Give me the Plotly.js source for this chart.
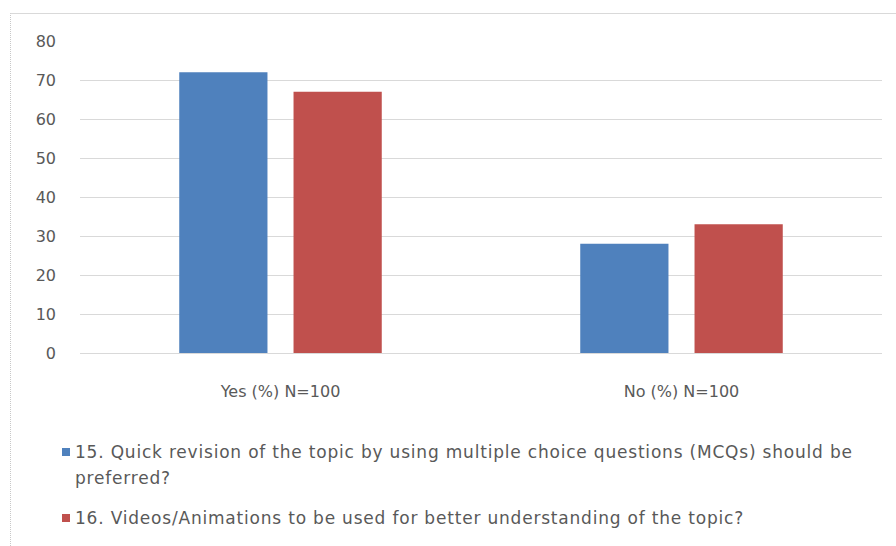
<!DOCTYPE html>
<html>
<head>
<meta charset="utf-8">
<script src="https://cdn.plot.ly/plotly-3.0.1.min.js"></script>
<style>
html,body{margin:0;padding:0;background:#fff;}
#wrap{position:relative;width:896px;height:546px;overflow:hidden;}
#frame{position:absolute;left:10px;top:13px;width:900px;height:600px;border-top:1px solid #d9d9d9;border-left:1px dotted #c8c8c8;pointer-events:none;}
#chart{position:absolute;left:0;top:0;width:896px;height:546px;}
#chart .annotation-text{letter-spacing:0.8px;}
</style>
</head>
<body>
<div id="wrap"><div id="chart"></div><div id="frame"></div></div>
<script>
var categories = ["Yes (%) N=100", "No (%) N=100"];
var seriesNames = [
  "15. Quick revision of the topic by using multiple choice questions (MCQs) should be<br>preferred?",
  "16. Videos/Animations to be used for better understanding of the topic?"
];
var q15Values = [72, 28];
var q16Values = [67, 33];
var colors = ["#4f81bd", "#c0504d"];
var yTicks = [0, 10, 20, 30, 40, 50, 60, 70, 80];

var font = "DejaVu Sans, sans-serif";
var traces = [
  {type: "bar", x: categories, y: q15Values, name: seriesNames[0], marker: {color: colors[0]}, showlegend: false},
  {type: "bar", x: categories, y: q16Values, name: seriesNames[1], marker: {color: colors[1]}, showlegend: false}
];

// legend drawn as annotations + squares (paper coords relative to plot area)
var plotL = 80, plotR = 882, plotT = 41, plotB = 353;
function px(x){ return (x - plotL) / (plotR - plotL); }
function py(y){ return (plotB - y) / (plotB - plotT); }
var legendY = [452, 518];
var lineStep = 26;
var shapes = [], annotations = [];
for (var i = 0; i < seriesNames.length; i++) {
  shapes.push({type: "rect", xref: "paper", yref: "paper",
    x0: px(62), x1: px(70), y0: py(legendY[i] + 4), y1: py(legendY[i] - 4),
    fillcolor: colors[i], line: {width: 0}});
  var lines = seriesNames[i].split("<br>");
  for (var j = 0; j < lines.length; j++) {
    annotations.push({xref: "paper", yref: "paper", x: px(73), y: py(legendY[i] + j * lineStep),
      xanchor: "left", yanchor: "middle", align: "left", showarrow: false,
      text: lines[j], font: {family: font, size: 17, color: "#595959"}});
  }
}

var layout = {
  width: 896, height: 546,
  margin: {l: plotL, r: 896 - plotR, t: plotT, b: 546 - plotB},
  paper_bgcolor: "#fff", plot_bgcolor: "#fff",
  barmode: "group", bargap: 0.43, bargroupgap: 0.228,
  font: {family: font, size: 16, color: "#595959"},
  xaxis: {tickfont: {family: font, size: 16, color: "#595959"}, ticks: "", showline: false, ticklabelstandoff: 27},
  yaxis: {range: [0, 80], tickvals: yTicks, ticktext: yTicks.map(String), gridcolor: "#d9d9d9", zerolinecolor: "#d9d9d9",
    showline: false, ticks: "", ticklabelstandoff: 23, tickfont: {family: font, size: 16, color: "#595959"}},
  shapes: shapes, annotations: annotations
};
Plotly.newPlot("chart", traces, layout, {staticPlot: true});
</script>
</body>
</html>
